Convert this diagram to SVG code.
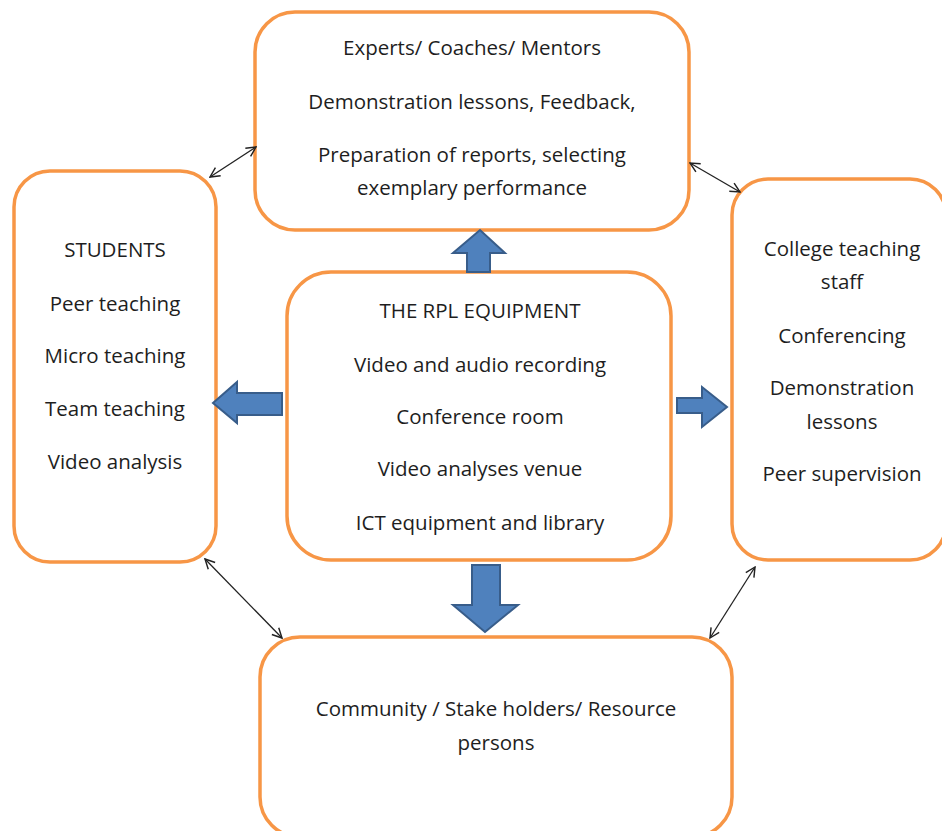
<svg xmlns="http://www.w3.org/2000/svg" width="942" height="831" viewBox="0 0 942 831">
<defs>
<style>
.box{fill:#fff;stroke:#F79646;stroke-width:3.5}
.t{font-family:"Open Sans","Liberation Sans",sans-serif;font-size:20.5px;fill:#1e1e1e;text-anchor:middle}
.blk{fill:#4F81BD;stroke:#385D8A;stroke-width:2;stroke-linejoin:miter}
.thin{stroke:#222;stroke-width:1.3;fill:none;marker-start:url(#ah);marker-end:url(#ah)}
</style>
<marker id="ah" viewBox="0 0 10 10" refX="9" refY="5" markerWidth="12" markerHeight="12" markerUnits="userSpaceOnUse" orient="auto-start-reverse">
<path d="M1,1 L9,5 L1,9" fill="none" stroke="#222" stroke-width="1.2"/>
</marker>
</defs>
<rect width="942" height="831" fill="#fff"/>
<g id="top">
<rect class="box" x="255" y="12" width="434" height="218" rx="40"/>
<text class="t" x="472" y="55">Experts/ Coaches/ Mentors</text>
<text class="t" x="472" y="109">Demonstration lessons, Feedback,</text>
<text class="t" x="472" y="162">Preparation of reports, selecting</text>
<text class="t" x="472" y="195">exemplary performance</text>
</g>
<g id="students">
<rect class="box" x="14" y="171" width="202" height="391" rx="36"/>
<text class="t" x="115" y="257">STUDENTS</text>
<text class="t" x="115" y="311">Peer teaching</text>
<text class="t" x="115" y="363">Micro teaching</text>
<text class="t" x="115" y="416">Team teaching</text>
<text class="t" x="115" y="469">Video analysis</text>
</g>
<g id="center">
<rect class="box" x="287" y="272" width="384" height="288" rx="44"/>
<text class="t" x="480" y="318">THE RPL EQUIPMENT</text>
<text class="t" x="480" y="372">Video and audio recording</text>
<text class="t" x="480" y="424">Conference room</text>
<text class="t" x="480" y="476">Video analyses venue</text>
<text class="t" x="480" y="530">ICT equipment and library</text>
</g>
<g id="staff">
<rect class="box" x="732" y="179" width="214" height="381" rx="36"/>
<text class="t" x="842" y="256">College teaching</text>
<text class="t" x="842" y="289">staff</text>
<text class="t" x="842" y="343">Conferencing</text>
<text class="t" x="842" y="395">Demonstration</text>
<text class="t" x="842" y="429">lessons</text>
<text class="t" x="842" y="481">Peer supervision</text>
</g>
<g id="community">
<rect class="box" x="260" y="637" width="472" height="200" rx="40"/>
<text class="t" x="496" y="716">Community / Stake holders/ Resource</text>
<text class="t" x="496" y="750">persons</text>
</g>
<g id="connectors">
<path class="blk" d="M467,272 L467,253 L453,253 L480,230 L505,253 L490,253 L490,272 Z"/>
<path class="blk" d="M282,393 L237,393 L237,382 L213,403 L237,423 L237,415 L282,415 Z"/>
<path class="blk" d="M677,398 L702,398 L702,387 L727,407 L702,427 L702,413 L677,413 Z"/>
<path class="blk" d="M472,565 L500,565 L500,605 L518,605 L485,632 L453,605 L472,605 Z"/>
<line class="thin" x1="210" y1="177" x2="256" y2="147"/>
<line class="thin" x1="690" y1="163" x2="740" y2="192"/>
<line class="thin" x1="205" y1="559" x2="282" y2="638"/>
<line class="thin" x1="755" y1="567" x2="710" y2="638"/>
</g>
</svg>
